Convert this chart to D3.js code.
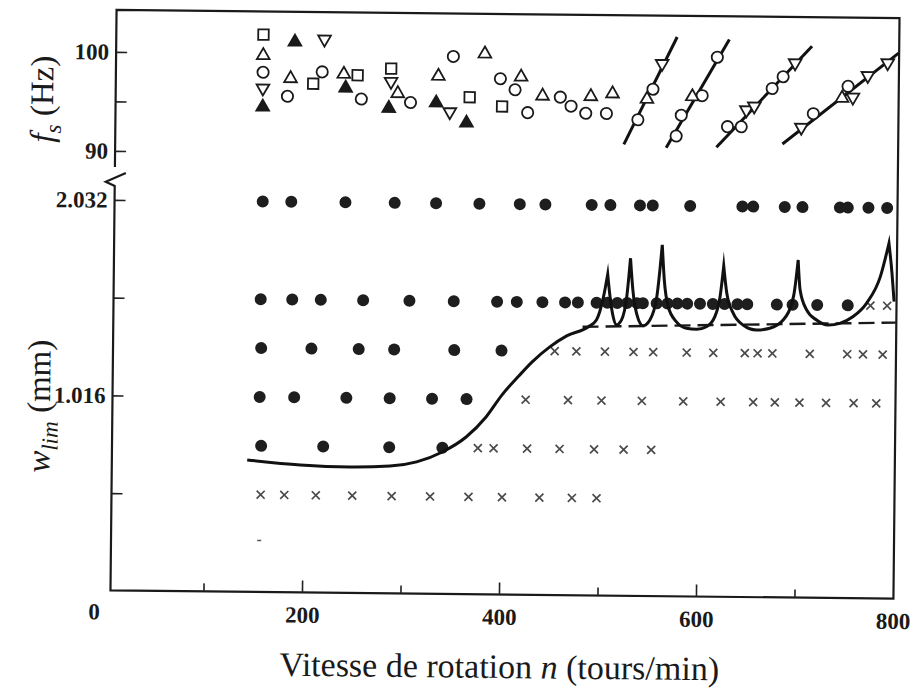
<!DOCTYPE html>
<html><head><meta charset="utf-8">
<script src="https://cdn.jsdelivr.net/npm/d3@7"></script>
<style>body{margin:0;background:#fff;} svg{display:block;}</style>
</head><body>
<script>
// ---------- DATA ----------
const xTickMajor = [200, 400, 600];
const xTickMinor = [100, 300, 500, 700];
const xTickLabels = [200, 400, 600, 800];
const fTicks = [90, 95, 100];
const fTickLabels = [90, 100];
const wTicks = [0.508, 1.016, 1.524, 2.032];
const wTickLabels = [1.016, 2.032];

// frequency fs (Hz) vs n (tours/min)
const fsSquare = [[155,101.9],[206,97.0],[251,97.9],[285,98.6],[365,95.8],[398,94.9]];
const fsCircle = [[155,98.1],[180,95.7],[215,98.2],[255,95.5],[305,95.2],[348,99.9],[396,97.7],[411,96.6],[424,94.3],[457,95.9],[468,95.0],[483,94.3],[504,94.3],[536,93.7],[551,96.8],[575,92.1],[580,94.2],[601,96.2],[616,100.1],[627,93.1],[641,93.1],[672,97.0],[683,98.2],[714,94.5],[749,97.3]];
const fsTriUp = [[155,99.8],[183,97.5],[237,98.0],[292,96.1],[333,97.9],[380,100.2],[417,97.9],[439,96.0],[488,96.0],[510,96.3],[545,95.8],[591,96.1],[743,96.1]];
const fsTriDown = [[155,96.5],[217,101.5],[285,97.3],[345,94.3],[560,99.4],[646,94.8],[654,95.2],[695,99.6],[702,93.1],[754,96.2],[769,98.4],[789,99.7]];
const fsTriFilled = [[155,94.6],[187,101.2],[239,96.6],[283,94.6],[331,95.2],[362,93.2]];
const fsLines = [
  [[522,91.2],[575,102.1]],
  [[565,90.9],[628,101.9]],
  [[616,91.0],[712,101.3]],
  [[683,91.4],[800,100.7]]
];

// depth of cut w (mm): test levels, chatter (filled) and stable (x) speeds
const wLevels = [0.508, 0.762, 1.016, 1.27, 1.524, 2.032];
const chatterN = [
  [],
  [157,220,287,341],
  [155,190,243,287,330,365],
  [156,207,255,291,352,400],
  [155,187,216,259,306,351,395,415,441,464,477,496,507,517,527,537,543,557,568,578,588,601,614,626,639,649,679,695,720,751],
  [156,185,240,290,332,376,417,443,490,509,539,552,590,643,654,686,704,742,750,771,790]
];
const stableN = [
  [157,181,213,250,290,329,368,402,440,473,498],
  [377,393,427,460,495,525,553],
  [425,468,502,543,585,623,656,678,703,730,758,781],
  [454,476,505,534,554,588,615,647,660,675,713,751,767,787],
  [774,791],
  []
];
const looseMarks = [[156,0.27]];

// stability limit curve (solid), by lobes
const limitSegments = [
  [[143,0.688],[197,0.665],[247,0.657],[288,0.664],[315,0.687],[341,0.740],[365,0.819],[385,0.924],[401,1.040],[418,1.140],[431,1.212],[449,1.292],[466,1.350],[488,1.399],[496,1.434],[503,1.556],[507,1.673]],
  [[507,1.673],[509.6,1.556],[513,1.452],[516.4,1.410],[521.5,1.436],[526.6,1.557],[530,1.757]],
  [[530,1.757],[532.7,1.593],[536.7,1.471],[543.4,1.407],[550.3,1.437],[557.1,1.559],[562.1,1.828]],
  [[562.1,1.828],[564.5,1.646],[568.8,1.507],[577.3,1.429],[587.5,1.396],[597.7,1.391],[607.8,1.405],[616.2,1.458],[621.3,1.562],[624.7,1.722]],
  [[624.7,1.722],[628.1,1.580],[634.8,1.477],[644.9,1.416],[658.5,1.391],[672.1,1.401],[685.6,1.444],[695.8,1.566],[700.2,1.757]],
  [[700.2,1.757],[702.5,1.601],[709.3,1.498],[719.5,1.446],[731.3,1.421],[743.1,1.430],[756.6,1.466],[770.2,1.537],[783.8,1.675],[792.2,1.849]],
  [[792.2,1.849],[795.6,1.693],[798,1.546]]
];
const asymptote = [[482,1.398],[800,1.437]];

// ---------- DRAW ----------
const W = 915, H = 688;
const serif = "'Liberation Serif','Times New Roman','DejaVu Serif',serif";
const svg = d3.select("body").append("svg").attr("width", W).attr("height", H);
const g = svg.append("g").attr("transform", "rotate(0.6,504,304)");

const frame = {left: 113.5, right: 896.5, top: 14, bottom: 594.5, breakY: 171};
const x = d3.scaleLinear().domain([0, 800]).range([108, 896]);
const yF = d3.scaleLinear().domain([90, 100]).range([155, 56]);
const yW = d3.scaleLinear().domain([0, 2.032]).range([595, 204]);

// frame with axis break on the left side
const fp = d3.path();
fp.moveTo(frame.left, frame.breakY);
fp.lineTo(frame.left, frame.top);
fp.lineTo(frame.right, frame.top);
fp.lineTo(frame.right, frame.bottom);
fp.lineTo(frame.left, frame.bottom);
fp.lineTo(frame.left, frame.breakY + 19);
fp.lineTo(frame.left - 9, frame.breakY + 15);
fp.lineTo(frame.left + 11, frame.breakY + 6);
fp.closePath();
g.append("path").attr("d", fp.toString().replace(/Z$/, ""))
  .attr("fill", "none").attr("stroke", "#1a1a1a").attr("stroke-width", 2.2)
  .attr("stroke-linejoin", "miter");

function styleAxis(sel) {
  sel.select(".domain").remove();
  sel.selectAll("line").attr("stroke", "#222").attr("stroke-width", 1.6);
  sel.selectAll("text").attr("font-family", serif).attr("font-weight", "bold")
    .attr("font-size", 23).attr("fill", "#1a1a1a");
}

// bottom ticks (inward)
g.append("g").attr("transform", `translate(0,${frame.bottom})`)
  .call(d3.axisBottom(x).tickValues(xTickMajor).tickSize(-12).tickFormat(""))
  .call(styleAxis);
g.append("g").attr("transform", `translate(0,${frame.bottom})`)
  .call(d3.axisBottom(x).tickValues(xTickMinor).tickSize(-8).tickFormat(""))
  .call(styleAxis);
g.append("g").attr("transform", `translate(0,${frame.bottom})`)
  .call(d3.axisBottom(x).tickValues(xTickLabels).tickSize(0).tickPadding(14).tickFormat(d3.format("d")))
  .call(styleAxis);
// origin label
g.append("text").attr("x", x(0) - 5).attr("y", frame.bottom + 29)
  .attr("text-anchor", "end").attr("font-family", serif).attr("font-weight", "bold")
  .attr("font-size", 23).attr("fill", "#1a1a1a").text("0");

// left ticks (inward)
g.append("g").attr("transform", `translate(${frame.left},0)`)
  .call(d3.axisLeft(yF).tickValues(fTicks).tickSize(-11).tickPadding(7)
    .tickFormat(d => fTickLabels.includes(d) ? d3.format("d")(d) : ""))
  .call(styleAxis);
g.append("g").attr("transform", `translate(${frame.left},0)`)
  .call(d3.axisLeft(yW).tickValues(wTicks).tickSize(-11).tickPadding(7)
    .tickFormat(d => wTickLabels.includes(d) ? d3.format(".3f")(d) : ""))
  .call(styleAxis);

// titles
const xt = g.append("text").attr("x", 503).attr("y", 678).attr("text-anchor", "middle")
  .attr("font-family", serif).attr("font-size", 34).attr("fill", "#1a1a1a");
xt.append("tspan").text("Vitesse de rotation ");
xt.append("tspan").attr("font-style", "italic").text("n");
xt.append("tspan").text(" (tours/min)");

function yTitle(cy, main, sub, unit) {
  const t = g.append("text").attr("transform", `translate(51,${cy}) rotate(-90)`)
    .attr("text-anchor", "middle").attr("font-family", serif).attr("font-size", 33)
    .attr("fill", "#1a1a1a");
  t.append("tspan").attr("font-style", "italic").text(main);
  t.append("tspan").attr("font-style", "italic").attr("font-size", 23).attr("dy", 8).text(sub);
  t.append("tspan").attr("dy", -8).text(" " + unit);
}
yTitle(104, "f", "s", "(Hz)");
yTitle(411, "w", "lim", "(mm)");

// fitted lines in the frequency panel
const fline = d3.line().x(d => x(d[0])).y(d => yF(d[1]));
g.append("g").selectAll("path").data(fsLines).join("path")
  .attr("d", fline).attr("fill", "none").attr("stroke", "#111").attr("stroke-width", 3);

// frequency markers
const mk = (type, size) => d3.symbol().type(type).size(size)();
function drawMarkers(data, path, fill, rot) {
  g.append("g").selectAll("path").data(data).join("path")
    .attr("d", path)
    .attr("transform", d => `translate(${x(d[0])},${yF(d[1])})` + (rot ? " rotate(180)" : ""))
    .attr("fill", fill).attr("stroke", "#1a1a1a").attr("stroke-width", 1.8);
}
drawMarkers(fsSquare, mk(d3.symbolSquare, 110), "#fff", false);
drawMarkers(fsCircle, mk(d3.symbolCircle, 100), "#fff", false);
drawMarkers(fsTriUp, mk(d3.symbolTriangle, 70), "#fff", false);
drawMarkers(fsTriDown, mk(d3.symbolTriangle, 70), "#fff", true);
drawMarkers(fsTriFilled, mk(d3.symbolTriangle, 70), "#1a1a1a", false);

// chatter / stable markers
const chatterPts = wLevels.flatMap((w, i) => chatterN[i].map(n => [n, w]));
const stablePts = wLevels.flatMap((w, i) => stableN[i].map(n => [n, w]));
g.append("g").selectAll("circle").data(chatterPts).join("circle")
  .attr("cx", d => x(d[0])).attr("cy", d => yW(d[1])).attr("r", 6).attr("fill", "#1e1e1e");
g.append("g").selectAll("path").data(stablePts).join("path")
  .attr("d", "M-4,-4L4,4M-4,4L4,-4")
  .attr("transform", d => `translate(${x(d[0])},${yW(d[1])})`)
  .attr("stroke", "#4a4a4a").attr("stroke-width", 1.7).attr("fill", "none");
g.append("g").selectAll("path").data(looseMarks).join("path")
  .attr("d", "M-2,0L2,0")
  .attr("transform", d => `translate(${x(d[0])},${yW(d[1])})`)
  .attr("stroke", "#555").attr("stroke-width", 1.5);

// asymptote (dashed)
const wline = d3.line().x(d => x(d[0])).y(d => yW(d[1]));
g.append("path").attr("d", wline(asymptote)).attr("fill", "none")
  .attr("stroke", "#1a1a1a").attr("stroke-width", 2.4).attr("stroke-dasharray", "16,7");

// stability lobes (solid, cusps joined)
const lobe = d3.line().x(d => x(d[0])).y(d => yW(d[1])).curve(d3.curveMonotoneX);
const lobePath = limitSegments.map((s, i) => {
  const p = lobe(s);
  return i === 0 ? p : p.replace(/^M[^A-Za-z]*/, "");
}).join("");
g.append("path").attr("d", lobePath).attr("fill", "none")
  .attr("stroke", "#111").attr("stroke-width", 3).attr("stroke-linejoin", "miter")
  .attr("stroke-miterlimit", 10);
</script>
</body></html>
